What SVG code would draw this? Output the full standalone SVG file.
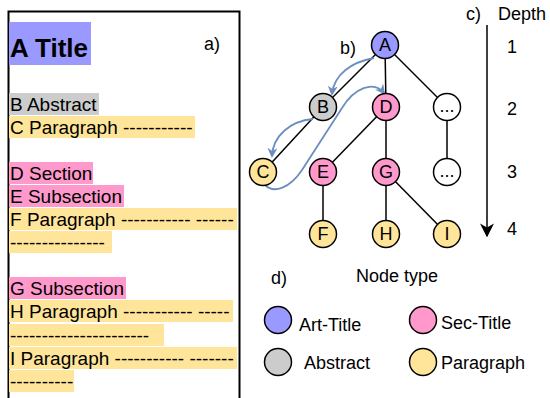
<svg xmlns="http://www.w3.org/2000/svg" width="550" height="398" viewBox="0 0 550 398">
<defs>
<style>
text{font-family:"Liberation Sans",Arial,sans-serif;fill:#000}
.doc{font-size:19px}
.hl-t{fill:#9999FF}.hl-a{fill:#CCCCCC}.hl-p{fill:#FFE599}.hl-s{fill:#FF99CC}
.n circle{stroke:#000;stroke-width:1.5}
.n text{font-size:18px;text-anchor:middle}
.edge{stroke:#000;stroke-width:1.5;fill:none}
.flow{stroke:#6C8EBF;stroke-width:1.8;fill:none;marker-end:url(#ab)}
.lbl{font-size:18px}
.ct{fill:#9999FF}.cs{fill:#FF99CC}.ca{fill:#CCCCCC}.cp{fill:#FFE599}.cw{fill:#FFFFFF}
</style>
<marker id="ab" viewBox="0 0 10 10" refX="8" refY="5" markerWidth="10" markerHeight="10" orient="auto" markerUnits="userSpaceOnUse">
<path d="M0,0 L10,5 L0,10 L3,5 Z" fill="#6C8EBF"/>
</marker>
<marker id="ak" viewBox="0 0 10 10" refX="9" refY="5" markerWidth="14" markerHeight="14" orient="auto" markerUnits="userSpaceOnUse">
<path d="M0,0 L10,5 L0,10 L3,5 Z" fill="#000"/>
</marker>
</defs>

<g id="document">
<rect x="8.5" y="11.5" width="231" height="400" fill="#fff" stroke="#000" stroke-width="2"/>
<rect class="hl-t" x="9" y="22" width="82" height="43"/>
<text x="10" y="57" font-size="26" font-weight="bold">A Title</text>
<text class="lbl" x="204" y="50">a)</text>
<rect class="hl-a" x="9" y="93" width="90" height="22"/>
<text class="doc" x="10" y="111">B Abstract</text>
<rect class="hl-p" x="9" y="116" width="186" height="22"/>
<text class="doc" x="10" y="134">C Paragraph -----------</text>
<rect class="hl-s" x="9" y="162" width="84" height="22"/>
<text class="doc" x="10" y="180">D Section</text>
<rect class="hl-s" x="9" y="185" width="115" height="22"/>
<text class="doc" x="10" y="203">E Subsection</text>
<rect class="hl-p" x="9" y="208" width="228" height="22"/>
<text class="doc" x="10" y="226">F Paragraph ----------- ------</text>
<rect class="hl-p" x="9" y="231" width="103" height="22"/>
<text class="doc" x="10" y="249">---------------</text>
<rect class="hl-s" x="9" y="277" width="117" height="22"/>
<text class="doc" x="10" y="295">G Subsection</text>
<rect class="hl-p" x="9" y="300" width="224" height="22"/>
<text class="doc" x="10" y="318">H Paragraph ----------- -----</text>
<rect class="hl-p" x="9" y="324" width="155" height="22"/>
<text class="doc" x="10" y="342">----------------------</text>
<rect class="hl-p" x="9" y="347" width="228" height="22"/>
<text class="doc" x="10" y="365">I Paragraph ----------- -------</text>
<rect class="hl-p" x="9" y="370" width="65" height="22"/>
<text class="doc" x="10" y="388">----------</text>
</g>

<g id="connectors">
<line class="edge" x1="385" y1="45" x2="323" y2="107"/>
<line class="edge" x1="385" y1="45" x2="386" y2="107"/>
<line class="edge" x1="385" y1="45" x2="447" y2="107"/>
<line class="edge" x1="323" y1="107" x2="263" y2="172"/>
<line class="edge" x1="386" y1="107" x2="323" y2="172"/>
<line class="edge" x1="386" y1="107" x2="386" y2="172"/>
<line class="edge" x1="447" y1="107" x2="447" y2="172"/>
<line class="edge" x1="323" y1="172" x2="323" y2="234"/>
<line class="edge" x1="386" y1="172" x2="386" y2="234"/>
<line class="edge" x1="386" y1="172" x2="447" y2="234"/>
<path class="flow" d="M374,58 C352,62 334,74 332,94"/>
<path class="flow" d="M313,119 C290,121 273,136 272,156"/>
<path class="flow" d="M265,185 C274,194 290,188 302,170 L342,108 C354,88 374,80 384,93"/>
<line x1="487" y1="25" x2="487" y2="236" stroke="#000" stroke-width="1.5" marker-end="url(#ak)"/>
</g>

<g id="nA" class="n"><circle class="ct" cx="385" cy="45" r="13.5"/><text x="385" y="51">A</text></g>
<g id="nB" class="n"><circle class="ca" cx="323" cy="107" r="13.5"/><text x="323" y="113">B</text></g>
<g id="nD" class="n"><circle class="cs" cx="386" cy="107" r="13.5"/><text x="386" y="113">D</text></g>
<g id="nX1" class="n"><circle class="cw" cx="447" cy="107" r="13.5"/><text x="447" y="112" font-size="14">...</text></g>
<g id="nC" class="n"><circle class="cp" cx="263" cy="172" r="13.5"/><text x="263" y="178">C</text></g>
<g id="nE" class="n"><circle class="cs" cx="323" cy="172" r="13.5"/><text x="323" y="178">E</text></g>
<g id="nG" class="n"><circle class="cs" cx="386" cy="172" r="13.5"/><text x="386" y="178">G</text></g>
<g id="nX2" class="n"><circle class="cw" cx="447" cy="172" r="13.5"/><text x="447" y="177" font-size="14">...</text></g>
<g id="nF" class="n"><circle class="cp" cx="323" cy="234" r="13.5"/><text x="323" y="240">F</text></g>
<g id="nH" class="n"><circle class="cp" cx="386" cy="234" r="13.5"/><text x="386" y="240">H</text></g>
<g id="nI" class="n"><circle class="cp" cx="447" cy="234" r="13.5"/><text x="447" y="240">I</text></g>

<g id="labels">
<text class="lbl" x="340" y="54">b)</text>
<text class="lbl" x="466" y="20">c)</text>
<text class="lbl" x="498" y="20">Depth</text>
<text class="lbl" x="507" y="53">1</text>
<text class="lbl" x="507" y="115">2</text>
<text class="lbl" x="507" y="178">3</text>
<text class="lbl" x="507" y="235">4</text>
</g>

<g id="legend">
<text class="lbl" x="271" y="284">d)</text>
<text class="lbl" x="356" y="282">Node type</text>
<g id="lg-art" class="n"><circle class="ct" cx="278" cy="320" r="13.5"/><text x="299" y="331" style="text-anchor:start">Art-Title</text></g>
<g id="lg-sec" class="n"><circle class="cs" cx="423" cy="320" r="13.5"/><text x="441" y="329" style="text-anchor:start">Sec-Title</text></g>
<g id="lg-abs" class="n"><circle class="ca" cx="278" cy="362" r="13.5"/><text x="304" y="369" style="text-anchor:start">Abstract</text></g>
<g id="lg-par" class="n"><circle class="cp" cx="423" cy="362" r="13.5"/><text x="441" y="369" style="text-anchor:start">Paragraph</text></g>
</g>
</svg>
